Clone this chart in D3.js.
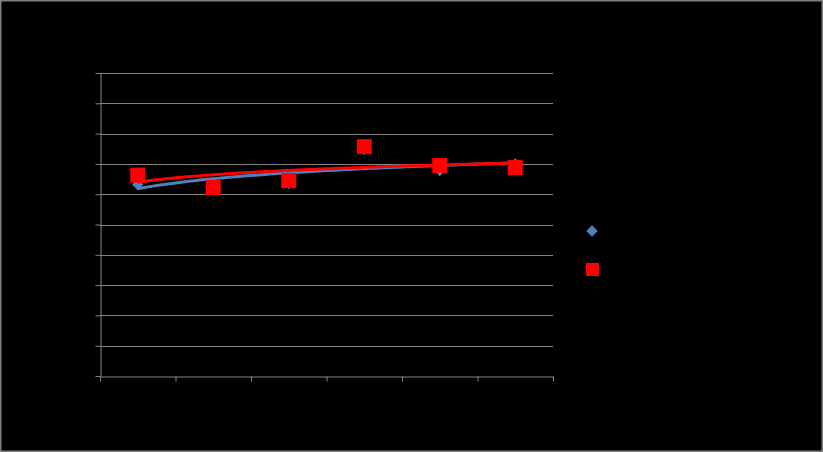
<!DOCTYPE html>
<html><head><meta charset="utf-8">
<script src="https://cdn.jsdelivr.net/npm/d3@7"></script>
<style>html,body{margin:0;padding:0;background:#000;}svg{display:block;}</style>
</head><body>
<svg id="c" width="823" height="452"></svg>
<script>
const xValues = [1, 2, 3, 4, 5, 6];
const series1 = [6.32, 6.3, 6.35, 7.47, 6.78, 7.0];
const series2 = [6.63, 6.22, 6.45, 7.57, 6.95, 6.88];
const seriesNames = ["Series1", "Series2"];
const yTicks = [0, 1, 2, 3, 4, 5, 6, 7, 8, 9, 10];
const xTicks = [0, 1, 2, 3, 4, 5, 6];

const svg = d3.select("#c");
svg.append("rect").attr("x", 0.5).attr("y", 0.5).attr("width", 822).attr("height", 451)
  .attr("fill", "#000").attr("stroke", "#808080").attr("stroke-width", 2);

const x = d3.scaleLinear().domain([0, 6]).range([100, 553]);
const y = d3.scaleLinear().domain([0, 10]).range([376, 73]);
const xPos = v => x(v - 0.5);

// gridlines
svg.append("g").selectAll("line").data(yTicks.filter(t => t > 0)).join("line")
  .attr("x1", 100).attr("x2", 553).attr("y1", d => Math.round(y(d)) + 0.5).attr("y2", d => Math.round(y(d)) + 0.5)
  .attr("stroke", "#868686").attr("stroke-width", 1);

const yAxis = svg.append("g").attr("transform", "translate(100.5,0)")
  .call(d3.axisLeft(y).tickValues(yTicks).tickSize(5).tickSizeOuter(0));
const xAxis = svg.append("g").attr("transform", "translate(0,376.5)")
  .call(d3.axisBottom(x).tickValues(xTicks).tickSize(5).tickSizeOuter(0));
[yAxis, xAxis].forEach(a => {
  a.select(".domain").attr("stroke", "#868686");
  a.selectAll(".tick line").attr("stroke", "#868686");
  a.selectAll("text").attr("fill", "#000").attr("font-family", "Liberation Sans, Arial").attr("font-size", 12);
});

// logarithmic trendline
function logFit(xs, ys) {
  const lx = xs.map(Math.log);
  const mx = d3.mean(lx), my = d3.mean(ys);
  const b = d3.sum(lx.map((l, i) => (l - mx) * (ys[i] - my))) / d3.sum(lx.map(l => (l - mx) ** 2));
  const a = my - b * mx;
  const pts = d3.range(0, 101).map(i => 1 + 5 * i / 100);
  return pts.map(v => [v, a + b * Math.log(v)]);
}
const line = d3.line().x(d => xPos(d[0])).y(d => y(d[1]));

// series1 diamonds
svg.append("g").selectAll("path").data(xValues.map((v, i) => [v, series1[i]])).join("path")
  .attr("d", d3.symbol(d3.symbolSquare, 64)())
  .attr("transform", d => `translate(${xPos(d[0])},${y(d[1])}) rotate(45)`)
  .attr("fill", "#4F81BD");
svg.append("path").datum(logFit(xValues, series1)).attr("d", line)
  .attr("fill", "none").attr("stroke", "#4F81BD").attr("stroke-width", 3);

// series2 squares
svg.append("g").selectAll("rect").data(xValues.map((v, i) => [v, series2[i]])).join("rect")
  .attr("x", d => xPos(d[0]) - 7.5).attr("y", d => y(d[1]) - 7.5)
  .attr("width", 15).attr("height", 15).attr("fill", "#FF0000");
svg.append("path").datum(logFit(xValues, series2)).attr("d", line)
  .attr("fill", "none").attr("stroke", "#FF0000").attr("stroke-width", 3);

// legend
const lg = svg.append("g");
lg.append("path").attr("d", d3.symbol(d3.symbolSquare, 64)())
  .attr("transform", "translate(592,231) rotate(45)").attr("fill", "#4F81BD");
lg.append("rect").attr("x", 586).attr("y", 263).attr("width", 13).attr("height", 13).attr("fill", "#FF0000");
lg.selectAll("text").data(seriesNames).join("text")
  .attr("x", 606).attr("y", (d, i) => 235 + i * 38)
  .attr("fill", "#000").attr("font-family", "Liberation Sans, Arial").attr("font-size", 12).text(d => d);
</script>
</body></html>
